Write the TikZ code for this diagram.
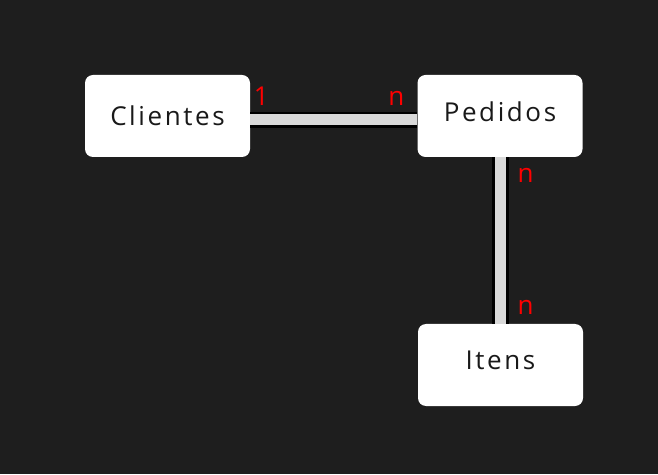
\documentclass[tikz,border=0pt]{standalone}
\usepackage{fontspec}
\usepackage{xcolor}
\setmainfont{Open Sans}
\newfontfamily\entityfont[LetterSpace=10]{Open Sans}
\usetikzlibrary{calc}
\definecolor{bgdark}{HTML}{1E1E1E}
\definecolor{linkgray}{HTML}{D9D9D9}
\tikzset{
	entity/.style={
			fill=white, rounded corners=8pt, minimum width=165pt, minimum height=82pt,
			inner sep=0pt, text=black!90, font=\entityfont\fontsize{26}{30}\selectfont
		},
	link/.style={draw=black, line width=2.7pt, double=linkgray, double distance=11pt},
	card/.style={text=red, anchor=base, inner sep=0pt, font=\fontsize{26}{30}\selectfont}
}

\begin{document}
\begin{tikzpicture}[x=1pt, y=1pt]
			\fill[bgdark]	(0, 0) rectangle (658, 474);

			\node[entity]	(clientes)	at (167.5, 358)	{Clientes};
			\node[entity, text depth=9pt]	(pedidos)	at (500, 358)	{Pedidos};
			\node[entity, text depth=9pt]	(itens)	at (500.5, 109)	{Itens};

			\draw[link]	([yshift=-4pt]clientes.east) -- ([yshift=-4pt]pedidos.west);
			\draw[link]	([xshift=0.5pt]pedidos.south) -- ([xshift=0.5pt]pedidos.south |- itens.north);

			\node[card]	(clientes1)	at ($(clientes.north east) + (11, -31)$)	{1};
			\node[card]	(pedidosn)	at ($(pedidos.north west) + (-21, -31)$)	{n};
			\node[card]	(pedidosn2)	at ($(pedidos.south) + (25.5, -25.3)$)	{n};
			\node[card]	(itensn)	at ($(itens.north) + (25, 9.7)$)	{n};
		\end{tikzpicture}
\end{document}
